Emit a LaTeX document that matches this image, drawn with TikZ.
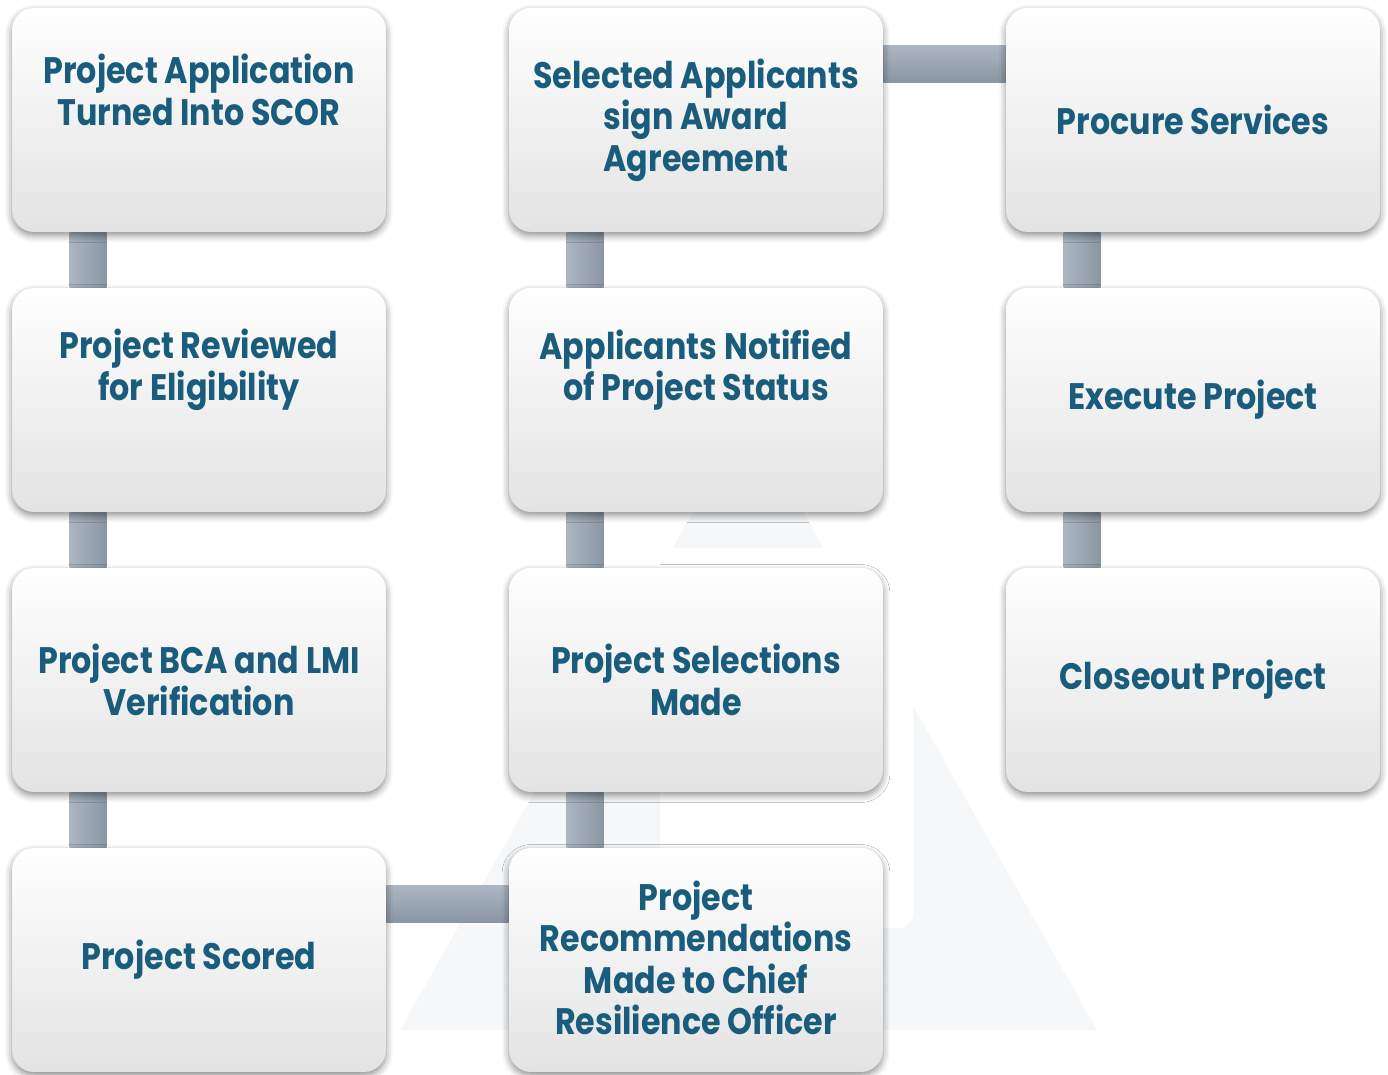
\documentclass[tikz,border=0pt]{standalone}
\usepackage{fontspec}
\newfontfamily\boxfont{Poppins}[FakeStretch=0.86]
\usetikzlibrary{backgrounds,shadows.blur}
\definecolor{stepblue}{HTML}{1A5C7C}
\definecolor{barlight}{HTML}{ABB6C1}
\definecolor{bardark}{HTML}{8A97A3}
\definecolor{wmark}{HTML}{F5F7F9}

\begin{document}
\begin{tikzpicture}[x=0.02cm, y=-0.02cm,
    stepbox/.style={rounded corners=0.44cm, minimum width=7.48cm, minimum height=4.48cm,
        top color=white, middle color=white, bottom color=black!11,
        blur shadow={shadow xshift=0cm, shadow yshift=-0.07cm, shadow blur radius=0.14cm, shadow opacity=45}},
    steptext/.style={align=center, text=stepblue, font={\boxfont\bfseries\fontsize{21}{23.6}\selectfont}},
    vbar/.style={left color=barlight, right color=bardark},
    hbar/.style={top color=barlight, bottom color=bardark}]
        \useasboundingbox (0,0) rectangle (1388,1074);

        % first column
        \node[stepbox] (app) at (199, 120) {};
        \node[stepbox] (elig) at (199, 400) {};
        \node[stepbox] (bca) at (199, 680) {};
        \node[stepbox] (scored) at (199, 960) {};
        % second column, read upwards
        \node[stepbox] (recom) at (696, 960) {};
        \node[stepbox] (select) at (696, 680) {};
        \node[stepbox] (notify) at (696, 400) {};
        \node[stepbox] (award) at (696, 120) {};
        % third column
        \node[stepbox] (procure) at (1193, 120) {};
        \node[stepbox] (execute) at (1193, 400) {};
        \node[stepbox] (closeout) at (1193, 680) {};

        \node[steptext] (app-t) at ([yshift=0.6cm]app.center) {Project Application\\Turned Into SCOR};
        \node[steptext] (elig-t) at ([yshift=0.6cm]elig.center) {Project Reviewed\\for Eligibility};
        \node[steptext] (bca-t) at (bca.center) {Project BCA and LMI\\Verification};
        \node[steptext] (scored-t) at (scored.center) {Project Scored};
        \node[steptext] (recom-t) at ([yshift=0.04cm]recom.center) {Project\\Recommendations\\Made to Chief\\Resilience Officer};
        \node[steptext] (select-t) at (select.center) {Project Selections\\Made};
        \node[steptext] (notify-t) at ([yshift=0.6cm]notify.center) {Applicants Notified\\of Project Status};
        \node[steptext] (award-t) at (award.center) {Selected Applicants\\sign Award\\Agreement};
        \node[steptext] (procure-t) at (procure.center) {Procure Services};
        \node[steptext] (execute-t) at (execute.center) {Execute Project};
        \node[steptext] (closeout-t) at (closeout.center) {Closeout Project};

        \begin{scope}[on background layer]
            % faint logo behind the chart
            \fill[wmark] (400, 1030) -- (1097, 1030) -- (748, 415) -- cycle;
            \fill[white, rounded corners=0.3cm] (660, 548) rectangle (913, 928);
            % connectors
            \shade[vbar] ([xshift=-2.59cm]app.south) rectangle ([xshift=-1.85cm]elig.north);
            \shade[vbar] ([xshift=-2.59cm]elig.south) rectangle ([xshift=-1.85cm]bca.north);
            \shade[vbar] ([xshift=-2.59cm]bca.south) rectangle ([xshift=-1.85cm]scored.north);
            \shade[hbar] ([yshift=0.76cm]scored.east) rectangle ([yshift=1.5cm]recom.west);
            \shade[vbar] ([xshift=-2.59cm]select.south) rectangle ([xshift=-1.85cm]recom.north);
            \shade[vbar] ([xshift=-2.59cm]notify.south) rectangle ([xshift=-1.85cm]select.north);
            \shade[vbar] ([xshift=-2.59cm]award.south) rectangle ([xshift=-1.85cm]notify.north);
            \shade[hbar] ([yshift=0.76cm]award.east) rectangle ([yshift=1.5cm]procure.west);
            \shade[vbar] ([xshift=-2.59cm]procure.south) rectangle ([xshift=-1.85cm]execute.north);
            \shade[vbar] ([xshift=-2.59cm]execute.south) rectangle ([xshift=-1.85cm]closeout.north);
        \end{scope}
    \end{tikzpicture}
\end{document}
